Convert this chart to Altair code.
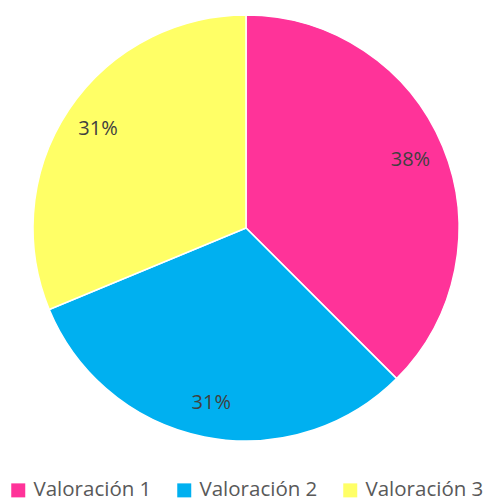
import altair as alt
import pandas as pd

categories = ["Valoración 1", "Valoración 2", "Valoración 3"]
values = [6, 5, 5]
colors = ["#FF3399", "#00B0F0", "#FFFF66"]

df = pd.DataFrame({"cat": categories, "val": values, "order": [0, 1, 2]})
total = sum(values)
df["pct"] = [f"{round(v / total * 100)}%" for v in values]

CX, CY, R = 238, 220, 213
FONT = "Open Sans"

base = alt.Chart(df).encode(
    theta=alt.Theta("val:Q", stack=True),
    order=alt.Order("order:Q"),
)

pie = base.mark_arc(stroke="white", strokeWidth=1.5, radius=R).encode(
    x=alt.value(CX),
    y=alt.value(CY),
    color=alt.Color(
        "cat:N",
        scale=alt.Scale(domain=categories, range=colors),
        legend=alt.Legend(
            title=None,
            orient="none",
            legendX=0,
            legendY=472,
            direction="horizontal",
            columns=3,
            symbolType="square",
            symbolSize=196,
            symbolStrokeWidth=0,
            labelFont=FONT,
            labelFontSize=20.5,
            labelColor="#595959",
            labelOffset=5,
            columnPadding=22,
            labelLimit=300,
        ),
    ),
)

text = base.mark_text(radius=178, font=FONT, fontSize=20, color="#404040").encode(
    x=alt.value(CX),
    y=alt.value(CY),
    text="pct:N",
)

chart = (
    alt.layer(pie, text)
    .properties(width=477, height=493, padding=0, autosize=alt.AutoSizeParams(type="none"))
    .configure_view(stroke=None)
)

chart.save("out.html", embed_options={"renderer": "svg", "actions": False})
